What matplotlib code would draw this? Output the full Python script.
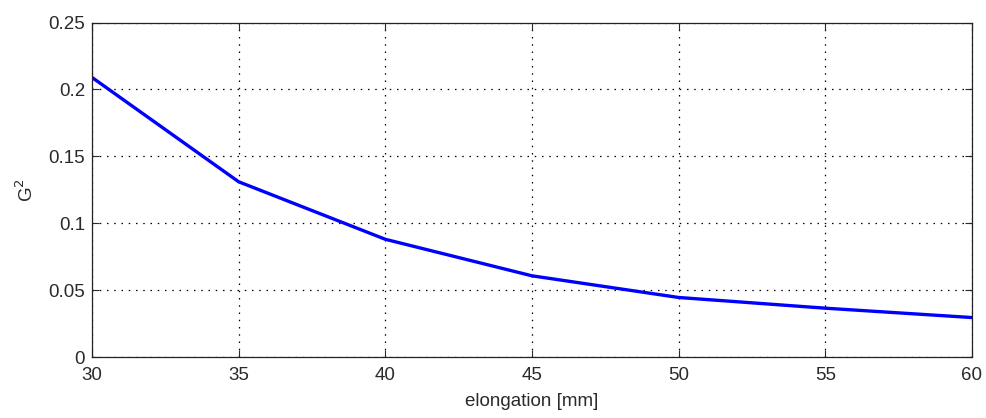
import matplotlib
matplotlib.use("Agg")
import matplotlib.pyplot as plt

elongation = [30, 35, 40, 45, 50, 55, 60]
g2 = [0.209, 0.131, 0.088, 0.0607, 0.0445, 0.0365, 0.0295]

xticks = [30, 35, 40, 45, 50, 55, 60]
yticks = [0, 0.05, 0.1, 0.15, 0.2, 0.25]
yticklabels = ['0', '0.05', '0.1', '0.15', '0.2', '0.25']

plt.rcParams['font.family'] = ['Liberation Sans', 'DejaVu Sans']

fig = plt.figure(figsize=(9.87, 4.18), dpi=100)
ax = fig.add_axes([0.0932, 0.1459, 0.8916, 0.8001])

ax.plot(elongation, g2, color='#0000ff', linewidth=2.4)

ax.set_xlim(30, 60)
ax.set_ylim(0, 0.25)
ax.set_xticks(xticks)
ax.set_yticks(yticks)
ax.set_yticklabels(yticklabels)
ax.tick_params(direction='in', top=True, right=True, length=5, width=0.8,
               labelsize=13.5, colors='#2a2a2a', pad=5)
ax.tick_params(axis='x', pad=7)
# sparse dotted grid
ax.grid(True, color='black', linestyle=(0, (1.2, 4.6)), linewidth=0.9)
for s in ax.spines.values():
    s.set_color('#222222')
    s.set_linewidth(0.9)

ax.set_xlabel('elongation [mm]', fontsize=13.5, color='#2a2a2a', labelpad=7)
ax.set_ylabel('G$^2$', fontsize=13.5, color='#2a2a2a', labelpad=8)

fig.savefig('out.png', dpi=100)
